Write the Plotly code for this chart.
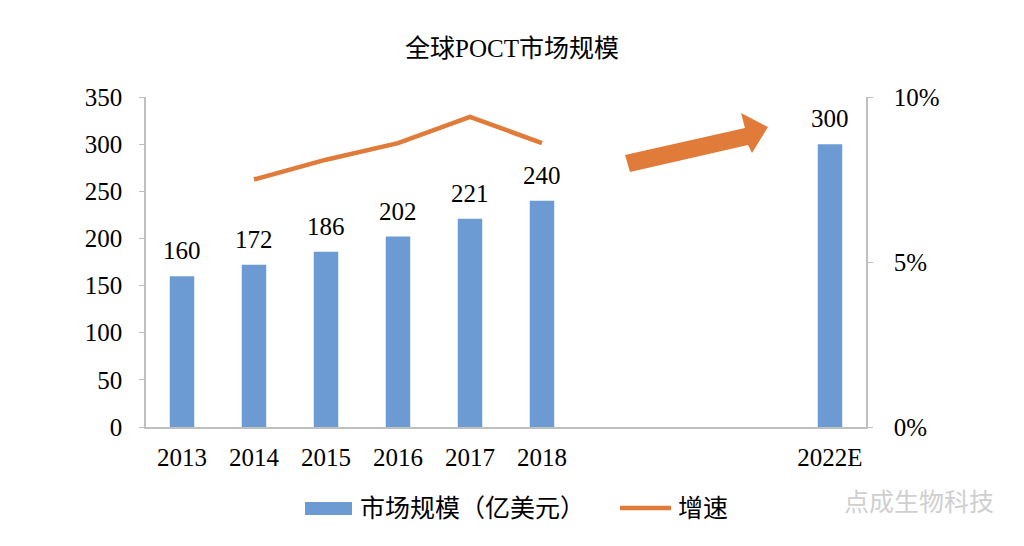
import plotly.graph_objects as go

categories = ["2013", "2014", "2015", "2016", "2017", "2018", " ", "  ", "   ", "2022E"]
market_size = [160, 172, 186, 202, 221, 240, None, None, None, 300]
growth_years = ["2014", "2015", "2016", "2017", "2018"]
growth_pct = [7.5, 8.1, 8.6, 9.4, 8.6]
legend_names = ["市场规模（亿美元）", "增速"]

BAR_COLOR = "#6B9BD2"
LINE_COLOR = "#E07B39"
AXIS_COLOR = "#BFBFBF"
FONT = "Liberation Serif, Noto Sans CJK SC, serif"
FS = 25

L, R, T, B = 146, 158, 97, 119
W, H = 1024, 546
PW, PH = W - L - R, H - T - B


def px(xp, yp):
    return ((xp - L) / PW, (H - B - yp) / PH)


fig = go.Figure()
fig.add_trace(go.Bar(
    x=categories, y=market_size, name=legend_names[0],
    marker=dict(color=BAR_COLOR, line=dict(width=0)),
    hoverinfo="skip", showlegend=False,
))
fig.add_trace(go.Scatter(
    x=growth_years, y=growth_pct, name=legend_names[1], yaxis="y2",
    mode="lines", line=dict(color=LINE_COLOR, width=4.5),
    hoverinfo="skip", showlegend=False,
))

annotations = []
for i, v in enumerate(market_size):
    if v is None:
        continue
    annotations.append(dict(
        x=i, y=v, xref="x", yref="y", text=str(v), showarrow=False,
        yanchor="bottom", yshift=10, font=dict(size=FS, color="#000000", family=FONT),
    ))

# manual legend
shapes = []
x0, y0 = px(305, 502)
x1, y1 = px(352, 515)
shapes.append(dict(type="rect", xref="paper", yref="paper", x0=x0, y0=y0, x1=x1, y1=y1,
                   fillcolor=BAR_COLOR, line=dict(width=0)))
lx, ly = px(358, 508)
annotations.append(dict(x=lx, y=ly, xref="paper", yref="paper", xanchor="left", yanchor="middle",
                        text=legend_names[0], showarrow=False,
                        font=dict(size=FS, family=FONT, color="#000000")))
x0, yy = px(620, 508)
x1, _ = px(671, 508)
shapes.append(dict(type="line", xref="paper", yref="paper", x0=x0, y0=yy, x1=x1, y1=yy,
                   line=dict(color=LINE_COLOR, width=4.5)))
lx, ly = px(676, 508)
annotations.append(dict(x=lx, y=ly, xref="paper", yref="paper", xanchor="left", yanchor="middle",
                        text=legend_names[1], showarrow=False,
                        font=dict(size=FS, family=FONT, color="#000000")))

# watermark
wx, wy = px(842, 500)
annotations.append(dict(
    x=wx, y=wy, xref="paper", yref="paper", yanchor="middle", xanchor="left",
    text="点成生物科技", showarrow=False,
    font=dict(size=25, color="#CFCFCF", family="Noto Sans CJK SC"),
))

arrow_pts = [(625, 155), (745, 128), (741, 113), (768, 127), (752, 153), (748, 145), (630, 172)]
path = ""
for i, (a, b) in enumerate(arrow_pts):
    xx, yy = px(a, b)
    path += ("M" if i == 0 else "L") + f"{xx:.4f},{yy:.4f} "
path += "Z"
shapes.append(dict(type="path", path=path, xref="paper", yref="paper",
                   fillcolor=LINE_COLOR, line=dict(width=0), layer="above"))

fig.update_layout(
    width=W, height=H,
    margin=dict(l=L, r=R, t=T, b=B, pad=0),
    paper_bgcolor="white", plot_bgcolor="white",
    font=dict(family=FONT, size=FS, color="#000000"),
    title=dict(text="全球POCT市场规模", x=0.5, xref="container", xanchor="center",
               y=1 - 48 / H, yref="container", yanchor="middle",
               font=dict(size=25, family=FONT, color="#000000")),
    bargap=0.66,
    showlegend=False,
    xaxis=dict(type="category", categoryorder="array", categoryarray=categories,
               showline=True, linecolor=AXIS_COLOR, linewidth=1.5, ticks="",
               showgrid=False, zeroline=False, tickfont=dict(size=FS),
               ticklabelstandoff=7, range=[-0.5, 9.5], fixedrange=True),
    yaxis=dict(range=[0, 350], dtick=50, showgrid=False, zeroline=False,
               showline=True, linecolor=AXIS_COLOR, linewidth=1.5,
               ticks="outside", ticklen=5, tickcolor=AXIS_COLOR,
               tickfont=dict(size=FS), ticklabelstandoff=12),
    yaxis2=dict(range=[0, 10], dtick=5, ticksuffix="%", overlaying="y", side="right",
                showgrid=False, zeroline=False, showline=True, linecolor=AXIS_COLOR,
                linewidth=1.5, ticks="outside", ticklen=5, tickcolor=AXIS_COLOR,
                tickfont=dict(size=FS), ticklabelstandoff=16),
    annotations=annotations,
    shapes=shapes,
)

fig.write_html("out.html")
